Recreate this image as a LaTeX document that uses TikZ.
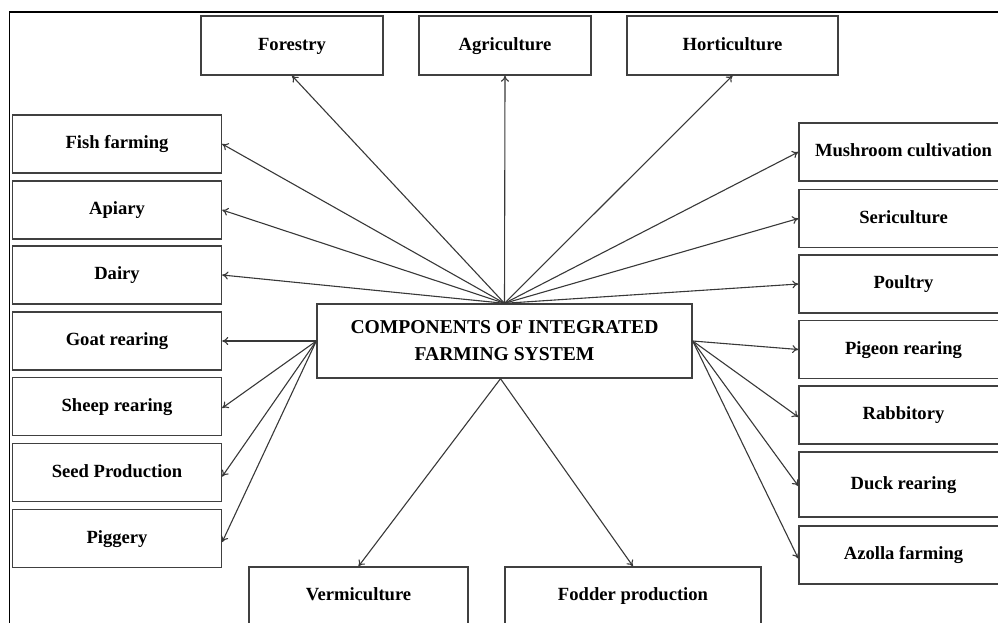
\documentclass[tikz,border=0pt]{standalone}
\usepackage{fontspec}
\setmainfont{Liberation Serif}
\usetikzlibrary{arrows.meta}
\begin{document}
\begin{tikzpicture}[x=1pt,y=-1pt,
  box/.style={draw=black!75,line width=1.4pt,rectangle,inner sep=0pt,
    text height=13pt,text depth=4pt,
    font=\fontsize{18.6}{22}\selectfont\bfseries,align=center},
  conn/.style={draw=black!78,line width=1.1pt,-{To[length=6pt,width=8pt]}}]
\useasboundingbox (0,0) rectangle (998,622);
\begin{scope}
\clip (0,0) rectangle (998,622);
\draw[line width=1.8pt] (9.5,12) rectangle (1020,640);
% top row
\node[box,minimum width=182pt,minimum height=59pt] (forestry) at (292,45.5) {Forestry};
\node[box,minimum width=172pt,minimum height=59pt] (agri) at (505,45.5) {Agriculture};
\node[box,minimum width=211pt,minimum height=59pt] (horti) at (732.5,45.5) {Horticulture};
% left column
\node[box,minimum width=209pt,minimum height=58pt] (fish) at (117,144) {Fish farming};
\node[box,minimum width=209pt,minimum height=58pt] (apiary) at (117,210) {Apiary};
\node[box,minimum width=209pt,minimum height=58pt] (dairy) at (117,275) {Dairy};
\node[box,minimum width=209pt,minimum height=58pt] (goat) at (117,341) {Goat rearing};
\node[box,minimum width=209pt,minimum height=58pt] (sheep) at (117,406.5) {Sheep rearing};
\node[box,minimum width=209pt,minimum height=58pt] (seed) at (117,472.5) {Seed Production};
\node[box,minimum width=209pt,minimum height=58pt] (piggery) at (117,538.5) {Piggery};
% right column
\node[box,minimum width=209pt,minimum height=58pt] (mush) at (903.5,152) {Mushroom cultivation};
\node[box,minimum width=209pt,minimum height=58pt] (seri) at (903.5,218.5) {Sericulture};
\node[box,minimum width=209pt,minimum height=58pt] (poultry) at (903.5,284) {Poultry};
\node[box,minimum width=209pt,minimum height=58pt] (pigeon) at (903.5,349.5) {Pigeon rearing};
\node[box,minimum width=209pt,minimum height=58pt] (rabbit) at (903.5,415) {Rabbitory};
\node[box,minimum width=209pt,minimum height=65pt] (duck) at (903.5,484.5) {Duck rearing};
\node[box,minimum width=209pt,minimum height=58pt] (azolla) at (903.5,555) {Azolla farming};
% centre
\node[box,minimum width=375pt,minimum height=74pt,text height=,text depth=,
  font=\fontsize{19.6}{27}\selectfont\bfseries] (ifs) at (504.5,341)
  {COMPONENTS OF INTEGRATED\\FARMING SYSTEM};
% bottom
\node[box,minimum width=219pt,minimum height=58pt] (vermi) at (358.5,596) {Vermiculture};
\node[box,minimum width=256pt,minimum height=58pt] (fodder) at (633,596) {Fodder production};
% connectors
\coordinate (top) at (ifs.north);
\coordinate (lft) at (ifs.west);
\coordinate (rgt) at (ifs.east);
\coordinate (bot) at ([xshift=-4pt]ifs.south);
\foreach \t in {forestry,agri,horti}
  \draw[conn] (top) -- (\t.south);
\foreach \t in {fish,apiary,dairy}
  \draw[conn] (top) -- (\t.east);
\foreach \t in {mush,seri,poultry}
  \draw[conn] (top) -- (\t.west);
\draw[conn] (lft) -- (goat.east);
\draw[conn] (lft) -- ([yshift=-1.5pt]sheep.east);
\draw[conn] (lft) -- ([yshift=-4pt]seed.east);
\draw[conn] (lft) -- ([yshift=-3.5pt]piggery.east);
\draw[conn] (rgt) -- (pigeon.west);
\draw[conn] (rgt) -- ([yshift=-2pt]rabbit.west);
\draw[conn] (rgt) -- ([yshift=-1.5pt]duck.west);
\draw[conn] (rgt) -- ([yshift=-3.5pt]azolla.west);
\draw[conn] (bot) -- (vermi.north);
\draw[conn] (bot) -- (fodder.north);
\end{scope}
\end{tikzpicture}
\end{document}
